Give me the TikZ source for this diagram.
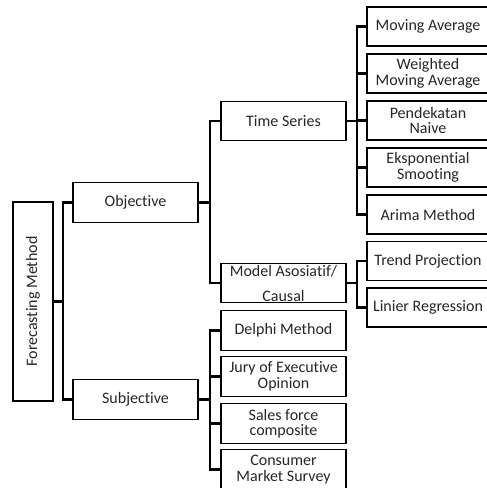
\documentclass[tikz,border=0pt]{standalone}
\usepackage{fontspec}
\setmainfont[Ligatures=NoCommon]{Carlito}
\begin{document}
\begin{tikzpicture}[x=1pt,y=-1pt,
  box/.style={draw=black, line width=1.4pt, rectangle, inner sep=0pt, align=center,
    text=black!85, font=\fontsize{16}{15.5}\selectfont},
  cbox/.style={box, minimum width=125pt, minimum height=39.5pt},
  rbox/.style={box, minimum width=122pt, minimum height=39pt},
  conn/.style={draw=black, line width=2.2pt}]
\useasboundingbox (0,0) rectangle (487,488);
\node[box, minimum width=40pt, minimum height=199pt] (fm) at (33,301.5) {};
\node[rotate=90, text=black!85, font=\fontsize{16}{15.5}\selectfont] (fmt) at (fm.center) {Forecasting Method};
\node[cbox] (obj) at (135.5,202.5) {Objective};
\node[cbox] (subj) at (135.5,399.5) {Subjective};
\node[cbox] (ts) at (283.5,121) {Time Series};
\node[cbox, font=\fontsize{16}{25}\selectfont] (ma) at (283.5,283) {Model Asosiatif/\\Causal};
\node[cbox] (del) at (283.5,330.5) {Delphi Method};
\node[cbox] (jury) at (283.5,376.5) {Jury of Executive\\Opinion};
\node[cbox] (sales) at (283.5,423.5) {Sales force\\composite};
\node[cbox] (cons) at (283.5,469.5) {Consumer\\Market Survey};
\node[rbox] (mov) at (428,26.5) {Moving Average};
\node[rbox] (wma) at (428,73.5) {Weighted\\Moving Average};
\node[rbox] (pn) at (428,120.5) {Pendekatan\\Naive};
\node[rbox] (es) at (428,167.5) {Eksponential\\Smooting};
\node[rbox] (ar) at (428,214.5) {Arima Method};
\node[rbox] (tr) at (428,261) {Trend Projection};
\node[rbox] (lr) at (428,307.5) {Linier Regression};
\coordinate (b1) at (63,0);
\coordinate (b2) at (210,0);
\coordinate (b3) at (357,0);
% level 1
\draw[conn] (fm.east) -- (fm.east -| b1);
\draw[conn] (obj.west) -- (obj.west -| b1) -- (subj.west -| b1) -- (subj.west);
% objective
\draw[conn] (obj.east) -- (obj.east -| b2);
\draw[conn] (ts.west) -- (ts.west -| b2) -- (ma.west -| b2) -- (ma.west);
% subjective
\draw[conn] (subj.east) -- (subj.east -| b2);
\draw[conn] (del.west) -- (del.west -| b2) -- (cons.west -| b2) -- (cons.west);
\draw[conn] (jury.west) -- (jury.west -| b2);
\draw[conn] (sales.west) -- (sales.west -| b2);
% time series
\draw[conn] (ts.east) -- (ts.east -| b3);
\draw[conn] (mov.west) -- (mov.west -| b3) -- (ar.west -| b3) -- (ar.west);
\draw[conn] (wma.west) -- (wma.west -| b3);
\draw[conn] (pn.west) -- (pn.west -| b3);
\draw[conn] (es.west) -- (es.west -| b3);
% model asosiatif
\draw[conn] (ma.east) -- (ma.east -| b3);
\draw[conn] (tr.west) -- (tr.west -| b3) -- (lr.west -| b3) -- (lr.west);
\end{tikzpicture}
\end{document}
